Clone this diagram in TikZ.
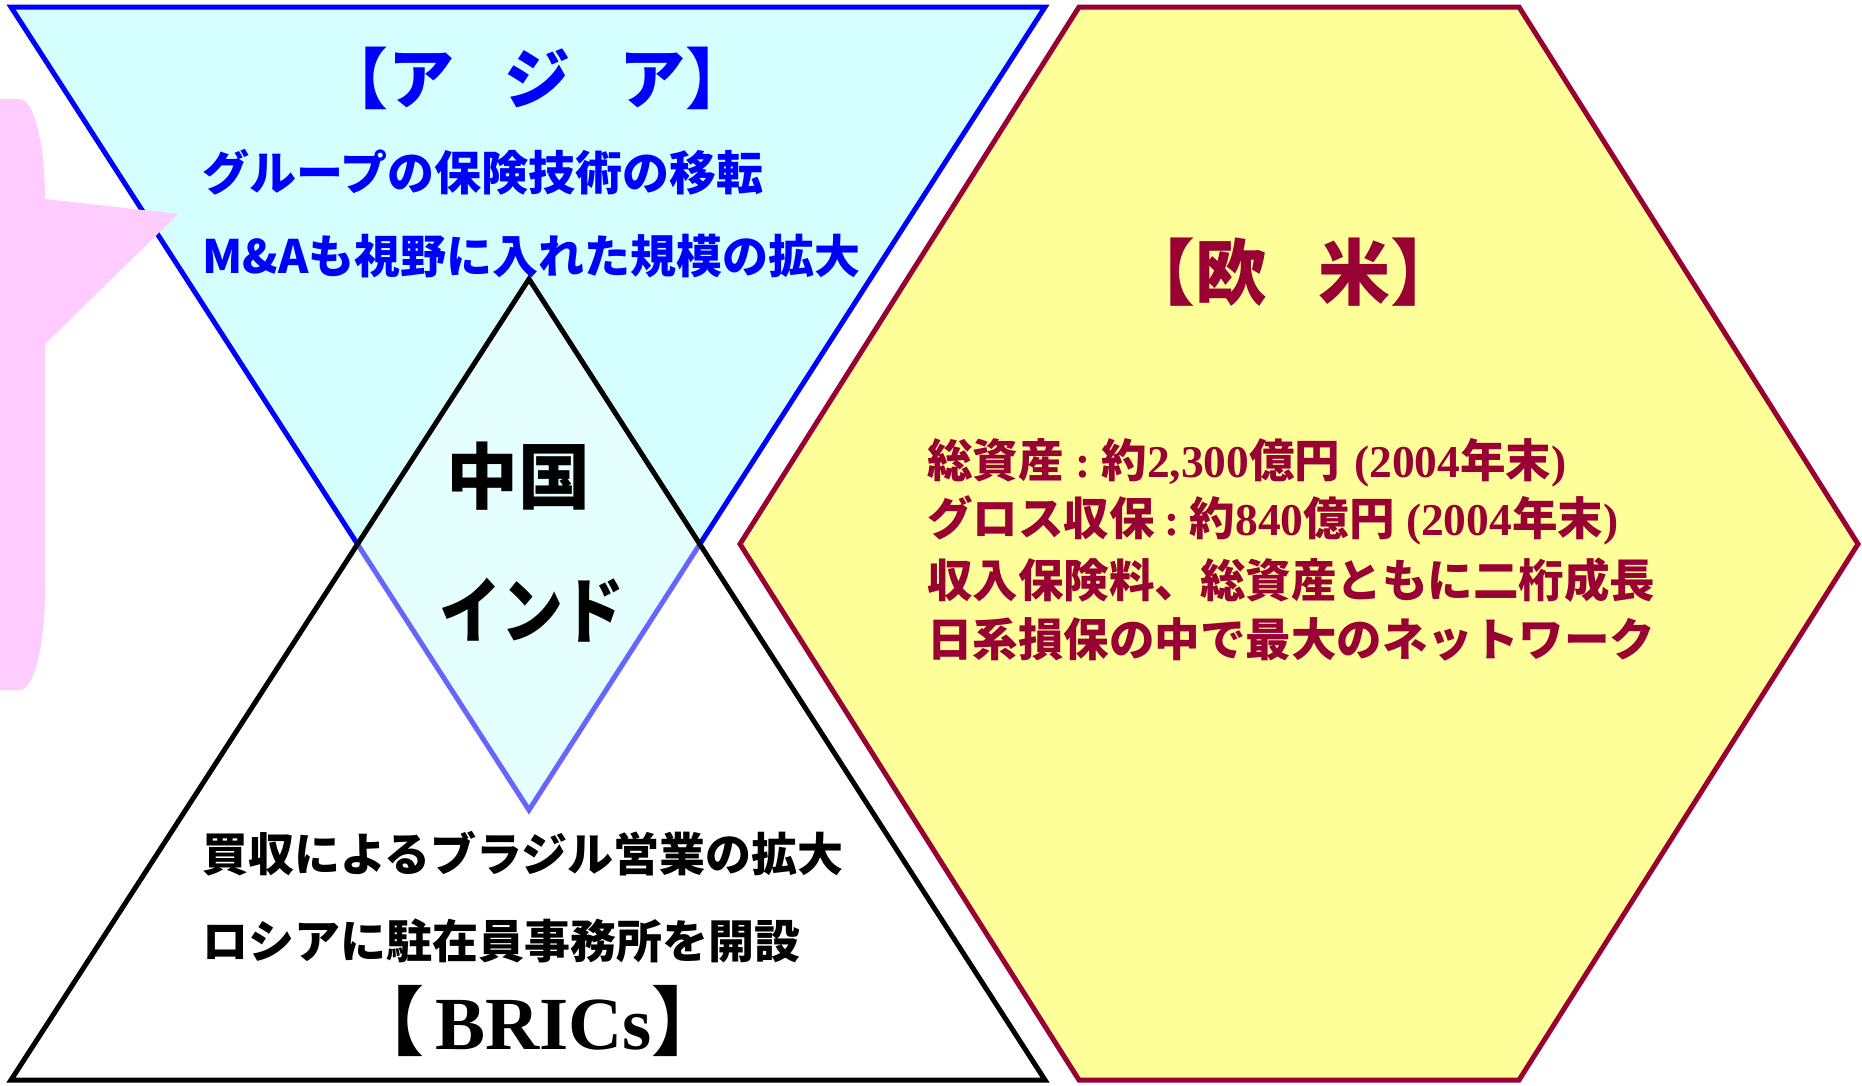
\documentclass[tikz,border=0pt]{standalone}
\usepackage{fontspec}
\usepackage{graphicx}
\newfontfamily\jpfont{Noto Sans CJK JP}
\newfontfamily\serfont{Liberation Serif}
\definecolor{asiablue}{HTML}{0000FF}
\definecolor{asiafill}{HTML}{D5FFFF}
\definecolor{pinkc}{HTML}{FFCCFF}
\definecolor{eurofill}{HTML}{FFFF99}
\definecolor{eurored}{HTML}{990033}
\tikzset{
  asiashape/.style={draw=asiablue, fill=asiafill, line width=5pt, line join=miter},
  bricshape/.style={draw=black, line width=5pt, line join=miter, fill=white, fill opacity=0.4},
  euroshape/.style={draw=eurored, fill=eurofill, line width=5pt, line join=miter},
  calloutshape/.style={fill=pinkc},
  titletxt/.style={inner sep=0pt, font=\jpfont\bfseries\fontsize{66}{70}\selectfont},
  bodytxt/.style={inner sep=0pt, anchor=west, font=\jpfont\bfseries\fontsize{46}{50}\selectfont},
  eurotxt/.style={inner sep=0pt, anchor=west, text=eurored, font=\jpfont\bfseries\fontsize{45.5}{50}\selectfont},
  bigtxt/.style={inner sep=0pt, font=\jpfont\bfseries\fontsize{72}{76}\selectfont}
}
\newcommand{\sfnum}[1]{{\serfont\bfseries #1}}
\begin{document}
\begin{tikzpicture}[x=1pt,y=-1pt]
\useasboundingbox (0,0) rectangle (1862,1085);
\fill[white] (0,0) rectangle (1862,1085);

% Asia (inverted triangle)
\coordinate (aTL) at (11,7);
\coordinate (aTR) at (1045,7);
\coordinate (aB) at (529,810);
\draw[asiashape] (aTL) -- (aTR) -- (aB) -- cycle;

% BRICs (upright triangle, translucent white)
\coordinate (bT) at (529,279);
\coordinate (bBL) at (11,1080);
\coordinate (bBR) at (1045,1080);
\draw[bricshape] (bT) -- (bBL) -- (bBR) -- cycle;

% pink callout
\coordinate (cTip) at (178,214);
\fill[calloutshape] (-5,99) -- (20,99) .. controls (33.8,99) and (45,143.8) .. (45,199)
  -- (cTip) -- (45,344) -- (45,590) .. controls (45,645.2) and (33.8,690) .. (20,690)
  -- (-5,690) -- cycle;

% Europe (hexagon)
\coordinate (h1) at (1079,7);
\coordinate (h2) at (1519,7);
\coordinate (h3) at (1858,544);
\coordinate (h4) at (1519,1080);
\coordinate (h5) at (1079,1080);
\coordinate (h6) at (740,544);
\draw[euroshape] (h1) -- (h2) -- (h3) -- (h4) -- (h5) -- (h6) -- cycle;

% Asia texts
\node[titletxt, text=asiablue] (asiaT) at (537,78) {【ア\hspace{0.75em}ジ\hspace{0.75em}ア】};
\node[bodytxt, text=asiablue, font=\jpfont\bfseries\fontsize{47}{50}\selectfont] (asia1) at (202,172) {グループの保険技術の移転};
\node[bodytxt, text=asiablue] (asia2) at (202,256) {M\&Aも視野に入れた規模の拡大};

% China / India
\node[bigtxt] (china) at (518,476) {中国};
\node[bigtxt] (india) at (532,610) {\scalebox{0.86}[1]{インド}};

% BRICs texts
\node[bodytxt] (bric1) at (202,854) {買収によるブラジル営業の拡大};
\node[bodytxt] (bric2) at (202,941) {ロシアに駐在員事務所を開設};
\node[inner sep=0pt, font=\jpfont\bfseries\fontsize{75}{78}\selectfont] (bricT) at (538,1021)
  {【\hspace{0.15em}\sfnum{BRICs}】};

% Europe texts
\node[titletxt, text=eurored, font=\jpfont\bfseries\fontsize{72}{76}\selectfont] (euroT) at (1293,272) {【欧\hspace{0.7em}米】};
\node[eurotxt] (euro1) at (927,463) {総資産\sfnum{\hspace{0.25em}:\hspace{0.25em}}約\sfnum{2,300}億円\sfnum{\hspace{0.3em}(2004}年末\sfnum{)}};
\node[eurotxt] (euro2) at (927,520) {グロス収保\sfnum{\hspace{0.22em}:\hspace{0.22em}}約\sfnum{840}億円\sfnum{\hspace{0.25em}(2004}年末\sfnum{)}};
\node[eurotxt] (euro3) at (927,580) {収入保険料、総資産ともに二桁成長};
\node[eurotxt] (euro4) at (927,639) {日系損保の中で最大のネットワーク};
\end{tikzpicture}
\end{document}
